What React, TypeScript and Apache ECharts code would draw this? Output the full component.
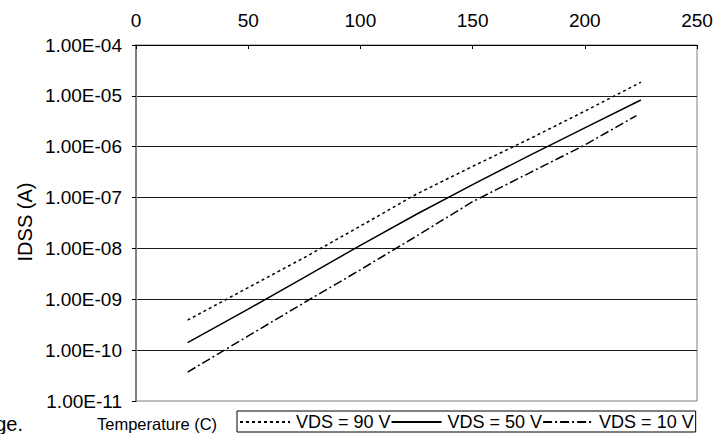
import React, { useEffect, useRef } from "react";
import * as echarts from "echarts";

const temperatures = [23, 50, 75, 100, 125, 150, 175, 200, 225];
const temperatures10 = [23, 50, 75, 100, 125, 150, 175, 200, 223];
const vds90 = [3.9e-10, 1.7e-9, 6.6e-9, 2.75e-8, 1.17e-7, 4.1e-7, 1.4e-6, 5.0e-6, 1.85e-5];
const vds50 = [1.4e-10, 6.4e-10, 2.7e-9, 1.15e-8, 4.7e-8, 1.8e-7, 6.6e-7, 2.35e-6, 8.3e-6];
const vds10 = [3.7e-11, 1.9e-10, 8.6e-10, 3.8e-9, 1.75e-8, 8.3e-8, 3.0e-7, 1.08e-6, 4.1e-6];
const seriesNames = ["VDS = 90 V", "VDS = 50 V", "VDS = 10 V"];
const xTicks = { min: 0, max: 250, interval: 50 };
const yRange = { min: 1e-11, max: 1e-4 };

const FONT = "'Liberation Sans', Arial, sans-serif";

function fmtExp(v: number): string {
  const e = Math.round(Math.log10(v));
  const sign = e < 0 ? "-" : "+";
  return "1.00E" + sign + String(Math.abs(e)).padStart(2, "0");
}

function pairs(xs: number[], ys: number[]) {
  return xs.map((x, i) => [x, ys[i]]);
}

export default function App() {
  const ref = useRef<HTMLDivElement>(null);
  useEffect(() => {
    document.body.style.margin = "0";
    if (!ref.current) return;
    const chart = echarts.init(ref.current, undefined, { renderer: "svg" });
    const lineBase = { color: "#000", width: 1.5 };
    chart.setOption({
      animation: false,
      backgroundColor: "#fff",
      grid: {
        left: 136,
        right: 30,
        top: 45,
        bottom: 33,
        show: true,
        borderColor: "#808080",
        borderWidth: 1,
        containLabel: false,
      },
      xAxis: {
        type: "value",
        position: "top",
        min: xTicks.min,
        max: xTicks.max,
        interval: xTicks.interval,
        axisLine: { show: true, lineStyle: { color: "#000", width: 1 } },
        axisTick: { show: true, inside: true, length: 4, lineStyle: { color: "#000" } },
        axisLabel: { color: "#000", fontSize: 19, fontFamily: FONT, margin: 15 },
        splitLine: { show: false },
      },
      yAxis: {
        type: "log",
        logBase: 10,
        min: yRange.min,
        max: yRange.max,
        interval: 1,
        axisLine: { show: true, lineStyle: { color: "#808080", width: 2 } },
        axisTick: { show: true, inside: false, length: 4, lineStyle: { color: "#000" } },
        axisLabel: {
          color: "#000",
          fontSize: 19,
          fontFamily: FONT,
          margin: 14,
          formatter: (v: number) => fmtExp(v),
        },
        splitLine: { show: true, showMinLine: false, lineStyle: { color: "#1a1a1a", width: 1 } },
      },
      legend: {
        data: seriesNames,
        left: 237,
        top: 411,
        orient: "horizontal",
        itemWidth: 50,
        itemHeight: 10,
        itemGap: 0,
        padding: [2, 2, 1, 2],
        borderColor: "#000",
        borderWidth: 1,
        borderRadius: 0,
        itemStyle: { opacity: 0 },
        textStyle: { color: "#000", fontSize: 18, fontFamily: FONT, padding: [0, 0, 0, 1] },
      },
      graphic: [
        {
          type: "text",
          x: 97,
          y: 424,
          style: {
            text: "Temperature (C)",
            fontSize: 16.5,
            fontFamily: FONT,
            fill: "#000",
            textAlign: "left",
            textVerticalAlign: "middle",
          },
        },
        {
          type: "text",
          x: 23,
          y: 424,
          style: {
            text: "ge.",
            fontSize: 20,
            fontFamily: FONT,
            fill: "#000",
            textAlign: "right",
            textVerticalAlign: "middle",
          },
        },
        {
          type: "text",
          x: 25,
          y: 222,
          rotation: Math.PI / 2,
          style: {
            text: "IDSS (A)",
            fontSize: 20,
            fontFamily: FONT,
            fill: "#000",
            textAlign: "center",
            textVerticalAlign: "middle",
          },
        },
      ],
      series: [
        {
          name: seriesNames[0],
          type: "line",
          symbol: "none",
          data: pairs(temperatures, vds90),
          lineStyle: { ...lineBase, type: [3, 3] },
          itemStyle: { color: "#000" },
        },
        {
          name: seriesNames[1],
          type: "line",
          symbol: "none",
          data: pairs(temperatures, vds50),
          lineStyle: { ...lineBase, type: "solid" },
          itemStyle: { color: "#000" },
        },
        {
          name: seriesNames[2],
          type: "line",
          symbol: "none",
          data: pairs(temperatures10, vds10),
          lineStyle: { ...lineBase, type: [9, 3, 2, 3] },
          itemStyle: { color: "#000" },
        },
      ],
    });
    return () => chart.dispose();
  }, []);
  return <div ref={ref} style={{ width: 727, height: 434 }} />;
}
